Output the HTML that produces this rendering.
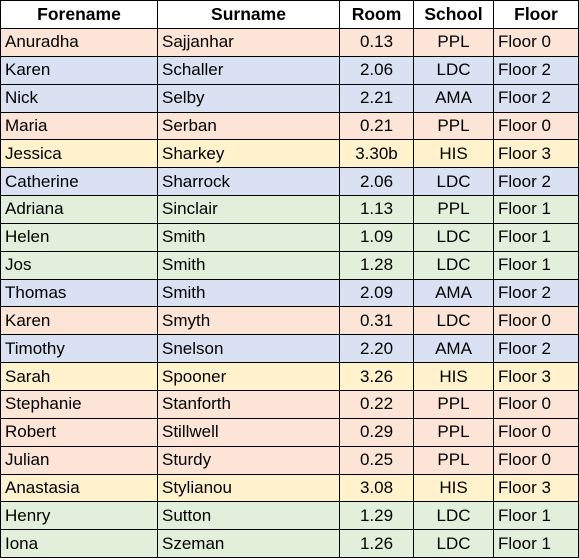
<!DOCTYPE html>
<html><head><meta charset="utf-8"><style>
body{margin:0;width:579px;height:560px;background:#fff;font-family:"Liberation Sans",Arial,sans-serif;}
table{position:absolute;left:0;top:0;border-collapse:collapse;font-size:17px;color:#000;table-layout:fixed;width:578px;}
td,th{border:1px solid #000;padding:0 4px;height:27.85px;box-sizing:border-box;white-space:nowrap;overflow:hidden;}
th{background:#fff;font-weight:bold;text-align:center;height:28px;font-size:17.5px;}
td.c{text-align:center}
tr.f0 td{background:#fce4d6}
tr.f1 td{background:#e2efda}
tr.f2 td{background:#d9e1f2}
tr.f3 td{background:#fff2cc}
</style></head><body>
<table>
<colgroup><col style="width:157px"><col style="width:182px"><col style="width:74px"><col style="width:80px"><col style="width:85px"></colgroup>
<tr><th>Forename</th><th>Surname</th><th>Room</th><th>School</th><th>Floor</th></tr>
<tr class="f0"><td>Anuradha</td><td>Sajjanhar</td><td class="c">0.13</td><td class="c">PPL</td><td>Floor 0</td></tr>
<tr class="f2"><td>Karen</td><td>Schaller</td><td class="c">2.06</td><td class="c">LDC</td><td>Floor 2</td></tr>
<tr class="f2"><td>Nick</td><td>Selby</td><td class="c">2.21</td><td class="c">AMA</td><td>Floor 2</td></tr>
<tr class="f0"><td>Maria</td><td>Serban</td><td class="c">0.21</td><td class="c">PPL</td><td>Floor 0</td></tr>
<tr class="f3"><td>Jessica</td><td>Sharkey</td><td class="c">3.30b</td><td class="c">HIS</td><td>Floor 3</td></tr>
<tr class="f2"><td>Catherine</td><td>Sharrock</td><td class="c">2.06</td><td class="c">LDC</td><td>Floor 2</td></tr>
<tr class="f1"><td>Adriana</td><td>Sinclair</td><td class="c">1.13</td><td class="c">PPL</td><td>Floor 1</td></tr>
<tr class="f1"><td>Helen</td><td>Smith</td><td class="c">1.09</td><td class="c">LDC</td><td>Floor 1</td></tr>
<tr class="f1"><td>Jos</td><td>Smith</td><td class="c">1.28</td><td class="c">LDC</td><td>Floor 1</td></tr>
<tr class="f2"><td>Thomas</td><td>Smith</td><td class="c">2.09</td><td class="c">AMA</td><td>Floor 2</td></tr>
<tr class="f0"><td>Karen</td><td>Smyth</td><td class="c">0.31</td><td class="c">LDC</td><td>Floor 0</td></tr>
<tr class="f2"><td>Timothy</td><td>Snelson</td><td class="c">2.20</td><td class="c">AMA</td><td>Floor 2</td></tr>
<tr class="f3"><td>Sarah</td><td>Spooner</td><td class="c">3.26</td><td class="c">HIS</td><td>Floor 3</td></tr>
<tr class="f0"><td>Stephanie</td><td>Stanforth</td><td class="c">0.22</td><td class="c">PPL</td><td>Floor 0</td></tr>
<tr class="f0"><td>Robert</td><td>Stillwell</td><td class="c">0.29</td><td class="c">PPL</td><td>Floor 0</td></tr>
<tr class="f0"><td>Julian</td><td>Sturdy</td><td class="c">0.25</td><td class="c">PPL</td><td>Floor 0</td></tr>
<tr class="f3"><td>Anastasia</td><td>Stylianou</td><td class="c">3.08</td><td class="c">HIS</td><td>Floor 3</td></tr>
<tr class="f1"><td>Henry</td><td>Sutton</td><td class="c">1.29</td><td class="c">LDC</td><td>Floor 1</td></tr>
<tr class="f1"><td>Iona</td><td>Szeman</td><td class="c">1.26</td><td class="c">LDC</td><td>Floor 1</td></tr>
</table>
</body></html>
